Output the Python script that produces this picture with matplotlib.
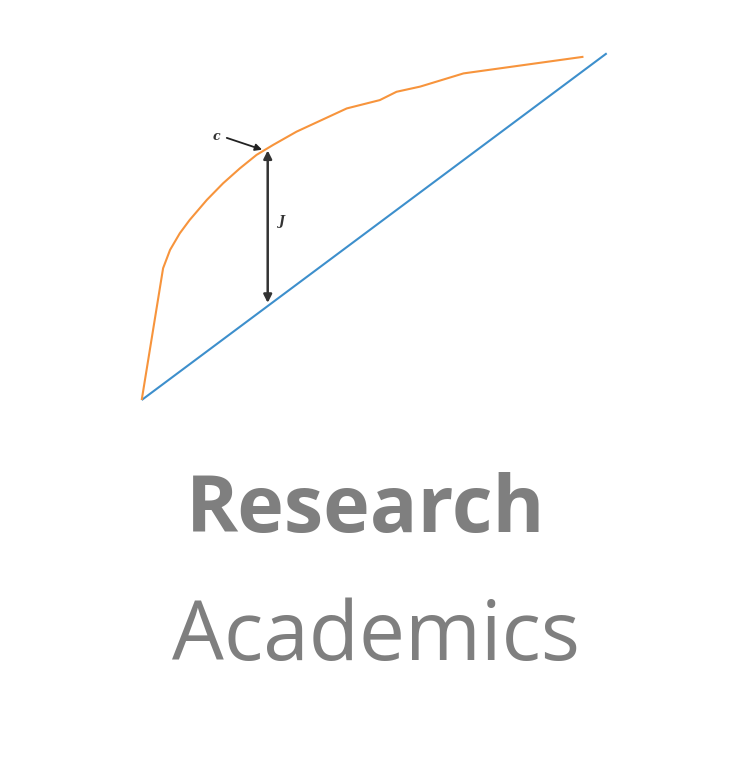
import matplotlib.pyplot as plt
import numpy as np

# curve (share of x vs share of y, in %)
curve_x = [0, 4.6, 6.1, 8.2, 10.3, 14.0, 17.5, 21.1, 24.7, 28.3, 33.3,
           44.1, 51.2, 54.8, 59.9, 69.2, 95.0]
curve_y = [0, 38.0, 43.3, 48.1, 51.9, 57.7, 62.5, 66.8, 70.7, 73.6, 77.4,
           84.1, 86.5, 88.9, 90.4, 94.2, 99.0]
line_x = [0, 100]
line_y = [0, 100]

gap_x = 27.1
gap_lo = 28.0
gap_hi = 72.0

fig = plt.figure(figsize=(7.48, 7.68), dpi=100)
# axes in figure fraction: left 141.7px, right 606.7px, top 53.3px, bottom 400px
ax = fig.add_axes([141.7/748, 1-400/768, 465/748, 346.7/768])
ax.set_xlim(0, 100)
ax.set_ylim(0, 100)
ax.axis('off')

ax.plot(line_x, line_y, color='#3d8fcc', lw=1.5, clip_on=False, solid_capstyle='butt')
ax.plot(curve_x, curve_y, color='#f7943c', lw=1.5, clip_on=False, solid_capstyle='butt')

ax.annotate('', xy=(gap_x, gap_lo), xytext=(gap_x, gap_hi),
            arrowprops=dict(arrowstyle='<|-|>', color='#333333', lw=1.8,
                            mutation_scale=12, shrinkA=0, shrinkB=0))
ax.text(30.1, 51.4, 'J', fontsize=9, family='DejaVu Serif', style='italic',
        fontweight='bold', color='#333333', ha='center', va='center')

ax.annotate('', xy=(25.9, 72.2), xytext=(18.3, 75.6),
            arrowprops=dict(arrowstyle='-|>', color='#222222', lw=1.3,
                            mutation_scale=10, shrinkA=0, shrinkB=0))
ax.text(16.1, 76.0, 'c', fontsize=9, family='DejaVu Serif', style='italic',
        fontweight='bold', color='#333333', ha='center', va='center')

fig.text(366/748, 1-532/768, 'Research', fontsize=57, fontweight='bold',
         family='Open Sans', color='#7f7f7f', ha='center', va='baseline')
fig.text(376/748, 1-660/768, 'Academics', fontsize=59,
         family='Open Sans', color='#7f7f7f', ha='center', va='baseline')

fig.savefig('out.png', dpi=100, facecolor='white')
